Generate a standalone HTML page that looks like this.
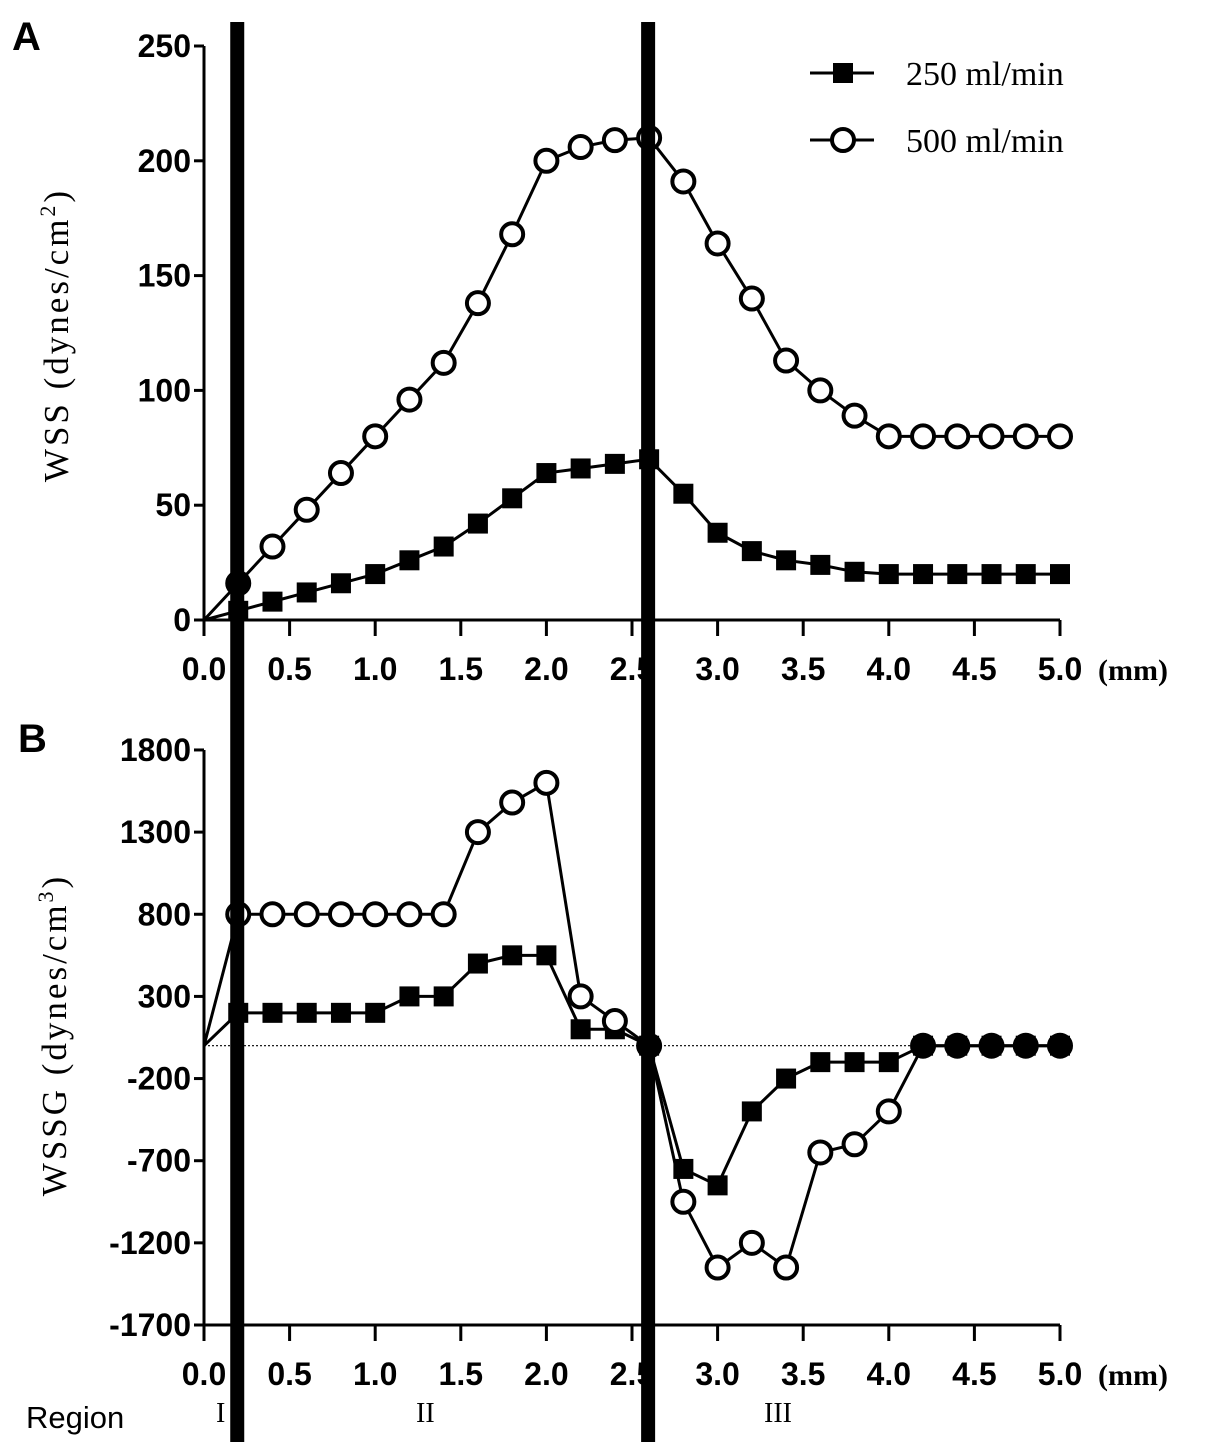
<!DOCTYPE html>
<html><head><meta charset="utf-8"><style>
body{margin:0;background:#fff}
svg{display:block}
.tk{font-family:"Liberation Sans",sans-serif;font-weight:bold;font-size:32px}
.sf{font-family:"Liberation Serif",serif}
</style></head><body>
<svg id="c" width="1205" height="1454" viewBox="0 0 1205 1454"></svg>
<script>
const xs=[0,0.2,0.4,0.6,0.8,1.0,1.2,1.4,1.6,1.8,2.0,2.2,2.4,2.6,2.8,3.0,3.2,3.4,3.6,3.8,4.0,4.2,4.4,4.6,4.8,5.0];
const wss250=[0,4,8,12,16,20,26,32,42,53,64,66,68,70,55,38,30,26,24,21,20,20,20,20,20,20];
const wss500=[0,16,32,48,64,80,96,112,138,168,200,206,209,210,191,164,140,113,100,89,80,80,80,80,80,80];
const wssg250=[0,200,200,200,200,200,300,300,500,550,550,100,100,0,-750,-850,-400,-200,-100,-100,-100,0,0,0,0,0];
const wssg500=[0,800,800,800,800,800,800,800,1300,1480,1600,300,150,0,-950,-1350,-1200,-1350,-650,-600,-400,0,0,0,0,0];
const xTicks=["0.0","0.5","1.0","1.5","2.0","2.5","3.0","3.5","4.0","4.5","5.0"];
const yTicksA=[0,50,100,150,200,250];
const yTicksB=[-1700,-1200,-700,-200,300,800,1300,1800];
const regionLines=[0.2,2.6];

const svg=document.getElementById('c');
const NS='http://www.w3.org/2000/svg';
function mk(t,a,p){const e=document.createElementNS(NS,t);for(const k in a)e.setAttribute(k,a[k]);(p||svg).appendChild(e);return e;}
const X=v=>204+v*171.2;
const YA=v=>620-v*2.296;
const YB=v=>1045.7-v*0.1643;

function panel(Y,yTicks,axisY,yTop,name){
  const g=mk('g',{});
  
  
  mk('line',{x1:X(0),y1:yTop,x2:X(0),y2:axisY,stroke:'#000','stroke-width':3},g);
  mk('line',{x1:X(0),y1:axisY,x2:X(5),y2:axisY,stroke:'#000','stroke-width':3},g);
  yTicks.forEach(t=>{
    mk('line',{x1:X(0)-10,y1:Y(t),x2:X(0),y2:Y(t),stroke:'#000','stroke-width':3},g);
    const tx=mk('text',{x:X(0)-13,y:Y(t)+11,'text-anchor':'end',class:'tk'},g);tx.textContent=t;
  });
  xTicks.forEach((t,i)=>{
    const v=i*0.5;
    mk('line',{x1:X(v),y1:axisY,x2:X(v),y2:axisY+16,stroke:'#000','stroke-width':3},g);
    const tx=mk('text',{x:X(v),y:axisY+60,'text-anchor':'middle',class:'tk'},g);tx.textContent=t;
  });
  const mm=mk('text',{x:1098,y:axisY+60,class:'sf','font-size':30,'font-weight':'bold'},g);mm.textContent='(mm)';
}
function series(vals,other,Y,type,name){
  const g=mk('g',{});
  
  
  mk('polyline',{points:xs.map((x,i)=>X(x)+','+Y(vals[i])).join(' '),fill:'none',stroke:'#000','stroke-width':3},g);
  xs.forEach((x,i)=>{
    if(i===0)return;
    let m;
    if(type==='sq') m=mk('rect',{x:X(x)-10,y:Y(vals[i])-10,width:20,height:20,fill:'#000'},g);
    else m=mk('circle',{cx:X(x),cy:Y(vals[i]),r:11,fill:(other&&other[i]===vals[i])?'#000':'#fff',stroke:'#000','stroke-width':4},g);
    
    
  });
}
panel(YA,yTicksA,620,46,'panel-a');
panel(YB,yTicksB,1325,750,'panel-b');
const zl=mk('line',{x1:X(0),y1:YB(0),x2:X(5),y2:YB(0),stroke:'#000','stroke-width':1.2,'stroke-dasharray':'2,2'});

series(wss250,null,YA,'sq','wss-250-series');
series(wss500,null,YA,'ci','wss-500-series');
series(wssg250,null,YB,'sq','wssg-250-series');
series(wssg500,wssg250,YB,'ci','wssg-500-series');
regionLines.forEach(v=>{
  const l=mk('line',{x1:X(v)-1,y1:22,x2:X(v)-1,y2:1442,stroke:'#000','stroke-width':14});
  
});
const dot=mk('circle',{cx:X(0.2),cy:YA(16),r:12,fill:'#000'});

[[73,'sq','250 ml/min'],[140,'ci','500 ml/min']].forEach(([y,t,lab])=>{
  const g=mk('g',{});
  
  
  mk('line',{x1:810,y1:y,x2:874,y2:y,stroke:'#000','stroke-width':3},g);
  if(t==='sq')mk('rect',{x:833,y:y-10,width:20,height:20,fill:'#000'},g);
  else mk('circle',{cx:843,cy:y,r:11,fill:'#fff',stroke:'#000','stroke-width':4},g);
  const tx=mk('text',{x:906,y:y+12,class:'sf','font-size':34},g);tx.textContent=lab;
});
function txt(s,a,name){const t=mk('text',a);t.textContent=s;return t;}
txt('A',{x:12,y:50,'font-family':'Liberation Sans,sans-serif','font-weight':'bold','font-size':40},'panel-a-label');
txt('B',{x:18,y:752,'font-family':'Liberation Sans,sans-serif','font-weight':'bold','font-size':40},'panel-b-label');
const ya=txt('',{x:68,y:335,'text-anchor':'middle',class:'sf','font-size':35,'letter-spacing':'3',transform:'rotate(-90 68 335)'},'y-axis-title-a');
ya.innerHTML='WSS (dynes/cm<tspan font-size="22" dy="-13">2</tspan><tspan dy="13">)</tspan>';
const yb=txt('',{x:66,y:1035,'text-anchor':'middle',class:'sf','font-size':35,'letter-spacing':'3',transform:'rotate(-90 66 1035)'},'y-axis-title-b');
yb.innerHTML='WSSG (dynes/cm<tspan font-size="22" dy="-13">3</tspan><tspan dy="13">)</tspan>';
txt('Region',{x:26,y:1428,'font-family':'Liberation Sans,sans-serif','font-size':31},'region-label');
txt('I',{x:216,y:1422,class:'sf','font-size':28},'region-i');
txt('II',{x:416,y:1422,class:'sf','font-size':28},'region-ii');
txt('III',{x:764,y:1422,class:'sf','font-size':28},'region-iii');
</script>
</body></html>
